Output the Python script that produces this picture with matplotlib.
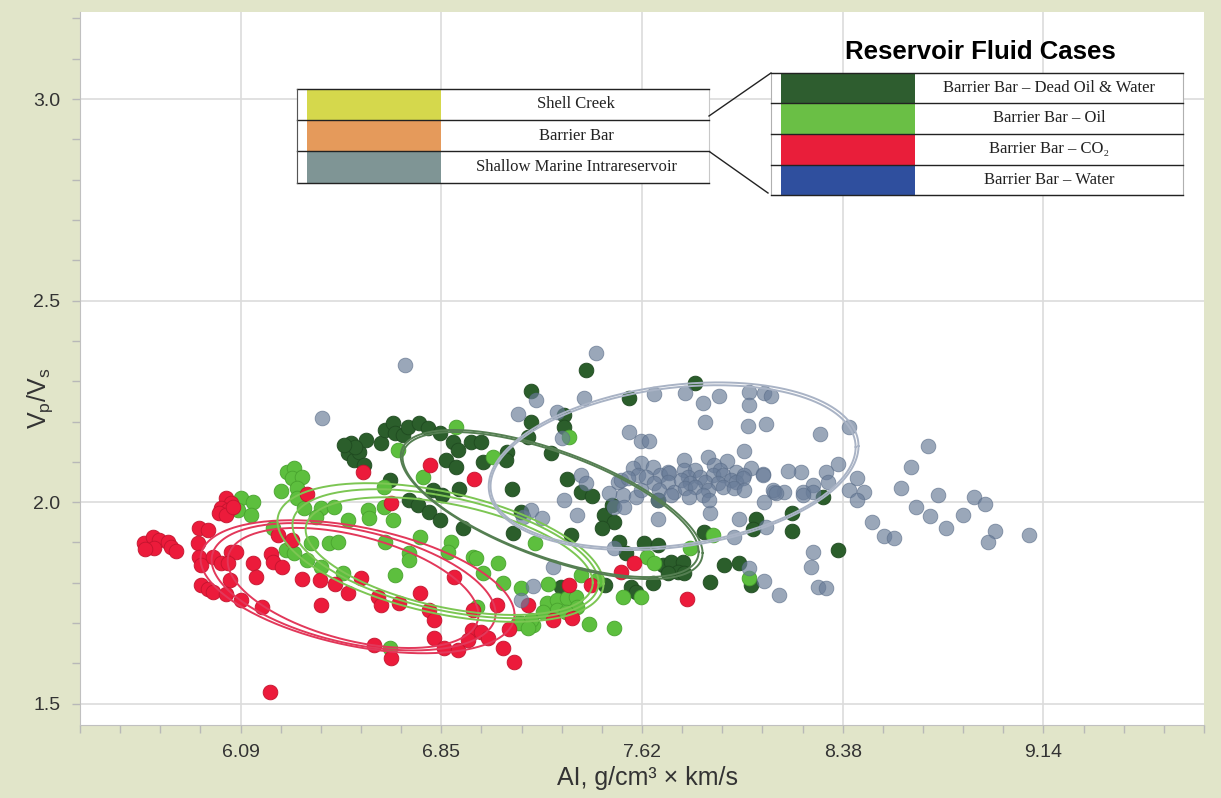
import numpy as np
import matplotlib
matplotlib.use("Agg")
import matplotlib.pyplot as plt
from matplotlib.patches import Rectangle
from matplotlib.lines import Line2D

plt.rcParams['font.family'] = ['Liberation Sans Narrow', 'Liberation Sans', 'DejaVu Sans']

# ---------------- data ----------------
red_x = [5.728,5.762,5.785,5.766,5.819,5.830,5.849,5.735,6.039,6.058,
         6.020,6.050,6.013,6.039,6.069,5.937,5.974,5.933,5.937,5.944,
         5.990,6.058,6.077,6.020,6.050,6.142,6.210,6.218,6.255,6.237,
         6.293,6.350,6.559,6.666,6.817,6.981,5.944,5.974,5.993,6.054,
         6.039,6.096,6.179,6.153,6.328,6.396,6.456,6.502,6.400,6.552,
         6.616,6.631,6.696,6.779,6.810,6.829,6.604,6.666,6.829,6.867,
         6.920,6.905,6.976,7.007,7.034,7.071,6.980,7.094,7.133,7.114,
         6.206,6.958,7.186,7.341,7.425,7.284,7.356,7.539,7.588,7.789]
red_y = [1.898,1.913,1.906,1.886,1.901,1.888,1.878,1.883,2.010,1.998,
         1.985,1.980,1.973,1.968,1.988,1.935,1.931,1.898,1.864,1.844,
         1.864,1.876,1.876,1.849,1.849,1.849,1.871,1.851,1.839,1.918,
         1.906,2.020,2.074,1.998,2.092,2.057,1.794,1.784,1.777,1.806,
         1.772,1.757,1.739,1.814,1.809,1.806,1.796,1.774,1.744,1.811,
         1.764,1.744,1.749,1.774,1.732,1.707,1.645,1.613,1.662,1.637,
         1.633,1.814,1.682,1.677,1.662,1.744,1.732,1.637,1.603,1.685,
         1.529,1.658,1.744,1.794,1.794,1.707,1.712,1.826,1.849,1.759]

oil_x = [6.096,6.145,6.088,6.134,6.248,6.274,6.297,6.293,6.331,6.312,
         6.312,6.335,6.400,6.449,6.381,6.502,6.221,6.267,6.297,6.362,
         6.430,6.464,6.350,6.400,6.692,6.912,6.787,6.639,7.053,6.578,
         6.582,6.673,6.639,6.646,6.779,6.893,6.734,6.980,7.075,6.882,
         7.212,6.483,6.684,6.665,6.734,7.015,7.094,7.159,6.995,7.159,
         7.205,7.265,7.387,7.451,7.261,7.299,7.337,7.368,7.375,7.299,
         7.246,7.330,7.197,7.151,7.186,7.417,7.512,7.546,7.615,7.640,
         7.664,7.804,7.888,7.341,6.988,8.025]
oil_y = [2.010,2.000,1.980,1.968,2.027,2.074,2.084,2.059,2.062,2.035,
         2.010,1.985,1.985,1.988,1.963,1.955,1.935,1.881,1.873,1.898,
         1.898,1.901,1.856,1.839,2.129,2.186,2.062,2.037,2.112,1.980,
         1.960,1.955,1.988,1.901,1.913,1.901,1.873,1.864,1.849,1.876,
         1.898,1.824,1.819,1.637,1.856,1.824,1.799,1.787,1.739,1.700,
         1.695,1.796,1.819,1.806,1.749,1.757,1.761,1.764,1.739,1.732,
         1.727,1.727,1.707,1.700,1.687,1.698,1.687,1.764,1.764,1.864,
         1.849,1.886,1.918,2.161,1.861,1.811]

dead_x = [6.514,6.502,6.525,6.544,6.571,6.563,6.628,6.646,6.673,6.684,
          6.711,6.730,6.772,6.806,6.855,6.901,6.920,6.969,7.007,6.874,
          6.912,7.018,7.109,7.102,7.197,6.662,6.927,6.828,6.862,6.734,
          6.768,6.810,6.855,6.939,7.125,7.159,7.132,7.406,7.197,7.569,
          7.823,7.322,7.322,7.189,7.273,7.337,7.387,7.432,7.349,7.474,
          7.512,7.470,7.508,7.679,7.531,7.626,7.679,7.854,7.698,7.729,
          7.774,7.755,7.717,7.577,7.596,7.660,7.930,7.987,7.880,8.032,
          8.051,8.188,8.188,8.363,8.309,7.311,7.478,7.558,8.040,7.778,
          6.532,6.487]
dead_y = [2.146,2.121,2.104,2.124,2.154,2.092,2.146,2.179,2.196,2.171,
          2.166,2.186,2.196,2.184,2.171,2.149,2.129,2.149,2.149,2.104,
          2.087,2.099,2.124,2.104,2.198,2.055,2.032,2.030,2.017,2.005,
          1.993,1.975,1.955,1.935,2.032,1.975,1.923,2.327,2.275,2.258,
          2.295,2.216,2.186,2.161,2.121,2.057,2.025,2.015,1.918,1.968,
          1.950,1.935,1.993,2.005,1.901,1.898,1.893,1.925,1.844,1.851,
          1.851,1.826,1.824,1.789,1.777,1.799,1.844,1.849,1.801,1.794,
          1.958,1.973,1.928,1.881,2.012,1.789,1.794,1.873,1.933,1.824,
          2.136,2.141]

water_x = [6.407,6.722,7.444,7.216,7.148,7.398,7.299,7.318,7.664,7.785,
           7.850,7.911,8.025,8.082,8.108,8.025,7.861,8.021,8.089,8.294,
           8.404,7.569,7.615,7.645,8.009,7.869,7.778,7.387,7.406,7.527,
           7.493,7.546,7.596,7.322,7.197,7.242,7.170,7.375,7.512,7.679,
           7.880,7.987,8.089,7.968,8.363,8.317,8.325,8.268,8.230,8.158,
           8.120,8.082,8.222,8.173,8.078,8.404,8.438,8.461,8.438,8.495,
           8.537,8.575,8.602,8.271,8.260,8.290,8.317,8.139,8.082,8.025,
           7.512,7.284,7.208,7.159,8.643,8.704,8.742,8.659,8.712,8.776,
           8.840,8.879,8.924,8.959,8.935,9.091,
           7.944,7.615,7.584,7.660,7.717,7.778,7.823,7.892,7.918,7.975,
           8.032,8.078,7.603,7.634,7.690,7.721,7.793,7.842,7.888,7.926,
           7.956,8.006,7.539,7.565,7.664,7.717,7.767,7.804,7.861,7.907,
           7.975,8.002,7.615,7.683,7.740,7.785,7.823,7.869,7.926,7.968,
           8.006,8.116,8.268,7.679,7.729,7.797,7.850,7.873,8.127,8.233,
           7.550]
water_y = [2.208,2.340,2.370,2.253,2.218,2.258,2.223,2.159,2.268,2.270,
           2.246,2.263,2.273,2.270,2.263,2.241,2.198,2.188,2.193,2.169,
           2.186,2.174,2.151,2.151,2.126,2.112,2.104,2.067,2.047,2.050,
           2.022,2.017,2.012,2.005,1.980,1.960,1.963,1.968,1.988,1.958,
           1.973,1.958,1.938,1.913,2.094,2.074,2.050,2.042,2.025,2.025,
           2.025,2.000,2.074,2.077,2.069,2.030,2.059,2.025,2.005,1.950,
           1.916,1.911,2.035,1.876,1.839,1.789,1.787,1.769,1.804,1.836,
           1.886,1.839,1.792,1.757,2.087,2.139,2.017,1.988,1.965,1.935,
           1.968,2.012,1.995,1.928,1.901,1.918,
           2.102,2.097,2.084,2.087,2.074,2.079,2.079,2.092,2.079,2.074,
           2.084,2.067,2.067,2.062,2.067,2.072,2.062,2.062,2.067,2.067,
           2.055,2.067,2.055,2.059,2.047,2.050,2.055,2.047,2.050,2.047,
           2.050,2.059,2.030,2.030,2.025,2.035,2.037,2.030,2.037,2.035,
           2.030,2.030,2.025,2.005,2.017,2.012,2.017,2.005,2.022,2.017,
           1.988]

# confidence ellipses: centre, horizontal / vertical half extents, tilt
ell_cx = [6.540, 6.525, 6.523, 6.855, 6.874, 6.888, 7.277, 7.273, 7.740, 7.738]
ell_cy = [1.790, 1.790, 1.787, 1.875, 1.872, 1.866, 1.994, 1.994, 2.089, 2.088]
ell_sx = [0.596, 0.539, 0.476, 0.619, 0.581, 0.545, 0.573, 0.562, 0.702, 0.693]
ell_sy = [0.165, 0.158, 0.149, 0.172, 0.160, 0.146, 0.185, 0.180, 0.208, 0.202]
ell_rho = [-0.42, -0.42, -0.45, -0.45, -0.45, -0.45, -0.65, -0.65, 0.24, 0.24]
ell_col = ['#e2385a'] * 3 + ['#7cc653'] * 3 + ['#557f52'] * 2 + ['#a9b3c5'] * 2

x_ticks = [6.096, 6.858, 7.620, 8.382, 9.144]
x_ticklabels = ['6.09', '6.85', '7.62', '8.38', '9.14']
y_ticks = [1.5, 2.0, 2.5, 3.0]
y_ticklabels = ['1.5', '2.0', '2.5', '3.0']

left_labels = ['Shell Creek', 'Barrier Bar', 'Shallow Marine Intrareservoir']
left_colors = ['#d5d84c', '#e59a5b', '#7f9595']
right_labels = ['Barrier Bar – Dead Oil & Water', 'Barrier Bar – Oil',
                'Barrier Bar – CO₂', 'Barrier Bar – Water']
right_colors = ['#2e5d2f', '#6abf45', '#e91e3a', '#2f4f9e']

# ---------------- figure ----------------
W, H = 1221, 798
fig = plt.figure(figsize=(W / 100, H / 100), dpi=100, facecolor='#e1e5c9')
ax = fig.add_axes([80 / W, 1 - 725 / H, (1204 - 80) / W, (725 - 12) / H])
ax.set_facecolor('white')
ax.set_xlim(5.4864, 9.7536)
ax.set_ylim(1.447, 3.216)

ax.set_xticks(x_ticks)
ax.set_xticklabels(x_ticklabels)
ax.set_xticks(np.arange(5.4864, 9.76, 0.1524), minor=True)
ax.set_yticks(y_ticks)
ax.set_yticklabels(y_ticklabels)
ax.set_yticks(np.arange(1.5, 3.25, 0.1), minor=True)
ax.tick_params(which='both', direction='out', length=6, color='#b8b8b8', width=1)
ax.tick_params(which='major', labelsize=14, labelcolor='#333333', pad=8)
for s in ['top', 'right']:
    ax.spines[s].set_visible(False)
for s in ['left', 'bottom']:
    ax.spines[s].set_color('#c0c0c0')
ax.grid(True, which='major', color='#dcdcdc', lw=1.2)
ax.set_axisbelow(True)

ax.scatter(dead_x, dead_y, s=112, c='#2b5e2b', edgecolors='#1f4a20', linewidths=0.6, zorder=2)
ax.scatter(oil_x, oil_y, s=112, c='#5dbf3e', edgecolors='#48a32e', linewidths=0.6, zorder=3)
ax.scatter(red_x, red_y, s=112, c='#ec1b3b', edgecolors='#c3142e', linewidths=0.6, zorder=4)
ax.scatter(water_x, water_y, s=112, c='#6a7d99', alpha=0.68, edgecolors='#5a6d88',
           linewidths=0.6, zorder=5)

t = np.linspace(0, 2 * np.pi, 300)
for cx, cy, sx, sy, r, c in zip(ell_cx, ell_cy, ell_sx, ell_sy, ell_rho, ell_col):
    ex = cx + sx * np.cos(t)
    ey = cy + sy * (r * np.cos(t) + np.sqrt(1 - r * r) * np.sin(t))
    ax.plot(ex, ey, color=c, lw=1.4, zorder=6)

fig.text(40 / W, 1 - 398 / H, 'V$_{\\mathregular{p}}$/V$_{\\mathregular{s}}$', rotation=90,
         ha='center', va='center', fontsize=18, color='#333333')
fig.text(648 / W, 1 - 778 / H, 'AI, g/cm³ × km/s', ha='center', va='center',
         fontsize=18, color='#333333')

# ---------------- legend tables ----------------
def rect(x0, y0, x1, y1, **kw):
    fig.add_artist(Rectangle((x0 / W, 1 - y1 / H), (x1 - x0) / W, (y1 - y0) / H,
                             transform=fig.transFigure, **kw))

def hline(x0, x1, y, **kw):
    fig.add_artist(Line2D([x0 / W, x1 / W], [1 - y / H, 1 - y / H],
                          transform=fig.transFigure, **kw))

def seg(x0, y0, x1, y1, **kw):
    fig.add_artist(Line2D([x0 / W, x1 / W], [1 - y0 / H, 1 - y1 / H],
                          transform=fig.transFigure, **kw))

serif = ['Liberation Serif', 'DejaVu Serif']

# left table
lt_rows = [89, 120, 151, 183]
rect(297, 89, 709, 183, facecolor='white', edgecolor='#c8c8c8', lw=0.8, zorder=10)
for i, (lab, col) in enumerate(zip(left_labels, left_colors)):
    y0, y1 = lt_rows[i], lt_rows[i + 1]
    rect(307, y0, 441, y1, facecolor=col, edgecolor='none', zorder=11)
    fig.text(576 / W, 1 - (y0 + y1) / 2 / H, lab, family=serif, fontsize=12,
             ha='center', va='center', color='#222222', zorder=12)
for y in lt_rows:
    hline(297, 709, y, color='#222222', lw=1.0, zorder=12)
seg(297, 89, 297, 183, color='#555555', lw=0.8, zorder=12)

# right table
rt_rows = [73, 103, 134, 165, 195]
rect(771, 73, 1183, 195, facecolor='white', edgecolor='#b0b0b0', lw=0.8, zorder=10)
for i, (lab, col) in enumerate(zip(right_labels, right_colors)):
    y0, y1 = rt_rows[i], rt_rows[i + 1]
    rect(781, y0, 915, y1, facecolor=col, edgecolor='none', zorder=11)
    fig.text(1049 / W, 1 - (y0 + y1) / 2 / H, lab, family=serif, fontsize=12,
             ha='center', va='center', color='#222222', zorder=12)
for y in rt_rows:
    hline(771, 1183, y, color='#222222', lw=1.0, zorder=12)

seg(709, 116, 771, 73, color='#222222', lw=1.0, zorder=12)
seg(710, 152, 768, 193, color='#222222', lw=1.0, zorder=12)

fig.text(980 / W, 1 - 52 / H, 'Reservoir Fluid Cases', family=['Liberation Sans', 'DejaVu Sans'],
         fontsize=18.5, weight='bold', ha='center', va='center', color='black')

fig.savefig('out.png', dpi=100, facecolor=fig.get_facecolor())
